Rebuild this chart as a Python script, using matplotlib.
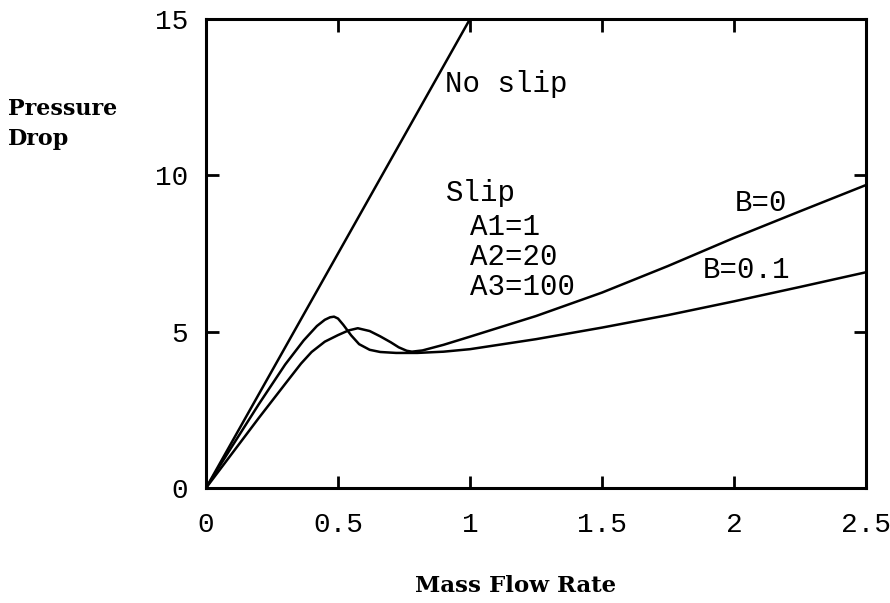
import matplotlib
matplotlib.use("Agg")
import matplotlib.pyplot as plt

# Data
noslip_x = [0.0, 1.0]
noslip_p = [0.0, 15.0]

b01_x = [0, 0.05, 0.1, 0.2, 0.3, 0.37, 0.42, 0.45, 0.47, 0.485, 0.50, 0.52, 0.55, 0.58,
         0.62, 0.66, 0.72, 0.80, 0.90, 1.0, 1.25, 1.5, 1.75, 2.0, 2.25, 2.5]
b01_p = [0, 0.68, 1.35, 2.68, 3.95, 4.72, 5.18, 5.38, 5.46, 5.48, 5.42, 5.22, 4.88, 4.60,
         4.42, 4.35, 4.32, 4.32, 4.36, 4.44, 4.76, 5.13, 5.53, 5.97, 6.43, 6.90]

b0_x = [0, 0.05, 0.1, 0.2, 0.3, 0.36, 0.40, 0.45, 0.50, 0.54, 0.575, 0.62, 0.66, 0.70,
        0.73, 0.76, 0.78, 0.82, 0.9, 1.0, 1.25, 1.5, 1.75, 2.0, 2.25, 2.5]
b0_p = [0, 0.56, 1.12, 2.24, 3.33, 3.98, 4.35, 4.68, 4.89, 5.04, 5.11, 5.02, 4.85, 4.66,
        4.50, 4.39, 4.36, 4.40, 4.58, 4.84, 5.50, 6.25, 7.10, 8.00, 8.85, 9.69]

x_ticks = [0, 0.5, 1, 1.5, 2, 2.5]
x_tick_labels = ["0", "0.5", "1", "1.5", "2", "2.5"]
y_ticks = [0, 5, 10, 15]
y_tick_labels = ["0", "5", "10", "15"]

mono = "Liberation Mono"

fig = plt.figure(figsize=(8.9, 6.03), dpi=100)
ax = fig.add_axes([206/890, 1-488/603, 660/890, 469/603])

lw = 1.8
ax.plot(noslip_x, noslip_p, color="black", lw=lw, solid_capstyle="butt")
ax.plot(b01_x, b01_p, color="black", lw=lw)
ax.plot(b0_x, b0_p, color="black", lw=lw)

ax.set_xlim(0, 2.5)
ax.set_ylim(0, 15)
ax.set_xticks(x_ticks)
ax.set_xticklabels(x_tick_labels)
ax.set_yticks(y_ticks)
ax.set_yticklabels(y_tick_labels)
for s in ax.spines.values():
    s.set_linewidth(2.2)
ax.tick_params(axis="both", direction="in", length=9, width=2,
               top=True, right=True, labelsize=20)
ax.tick_params(axis="x", pad=17)
ax.tick_params(axis="y", pad=13)
for lab in ax.get_xticklabels() + ax.get_yticklabels():
    lab.set_fontfamily(mono)

ts = 21
ax.text(0.905, 12.92, "No slip", fontsize=ts, family=mono, va="center", ha="left")
ax.text(0.909, 9.43, "Slip", fontsize=ts, family=mono, va="center", ha="left")
ax.text(1.0, 8.35, "A1=1", fontsize=ts, family=mono, va="center", ha="left")
ax.text(1.0, 7.39, "A2=20", fontsize=ts, family=mono, va="center", ha="left")
ax.text(1.0, 6.43, "A3=100", fontsize=ts, family=mono, va="center", ha="left")
ax.text(2.004, 9.11, "B=0", fontsize=ts, family=mono, va="center", ha="left")
ax.text(1.883, 6.97, "B=0.1", fontsize=ts, family=mono, va="center", ha="left")

fig.text(8/890, 1-124/603, "Pressure\nDrop", fontsize=16, family="DejaVu Serif",
         fontweight="bold", ha="left", va="center", linespacing=1.45)
fig.text(516/890, 1-586/603, "Mass Flow Rate", fontsize=16.5, family="DejaVu Serif",
         fontweight="bold", ha="center", va="center")

fig.savefig("out.png", dpi=100)
